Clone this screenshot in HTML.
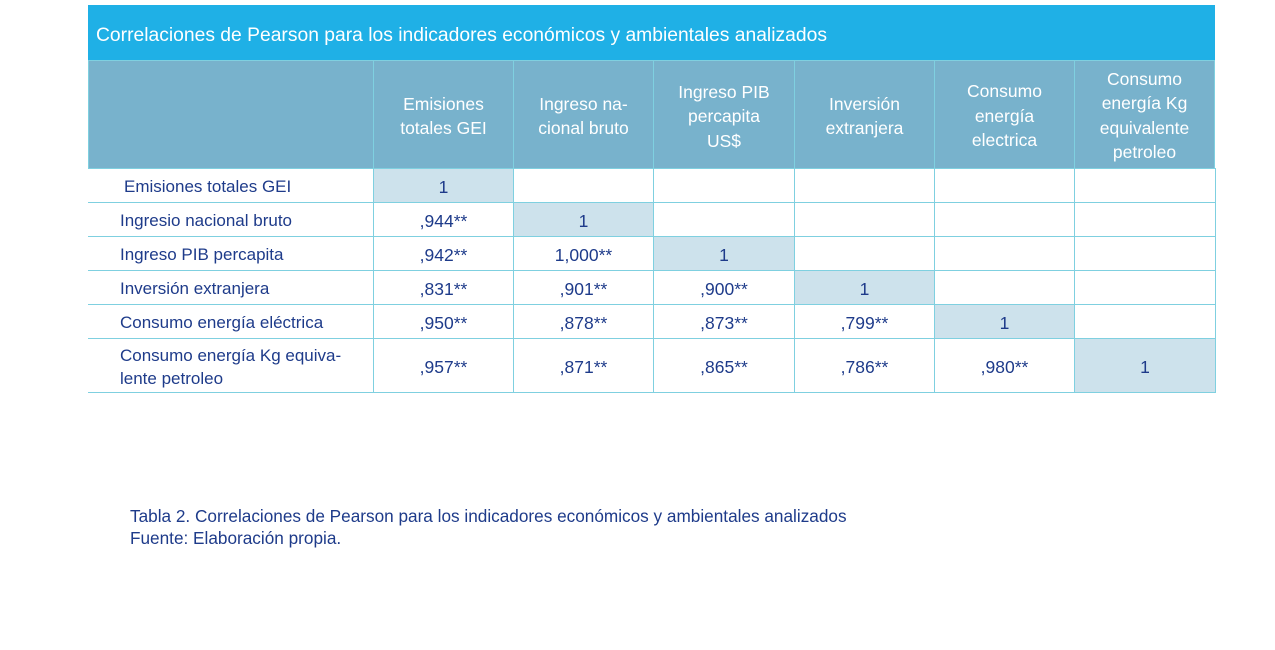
<!DOCTYPE html>
<html><head><meta charset="utf-8"><style>
body{margin:0;width:1275px;height:650px;background:#fff;position:relative;overflow:hidden;font-family:"Liberation Sans",sans-serif;}
.c{position:absolute;box-sizing:border-box;display:flex;align-items:center;justify-content:center;text-align:center;color:#1e3b8a;font-size:17.5px;padding-top:3px;}
.h{color:#fff;background:#78b2cc;font-size:17.5px;line-height:24.5px;border:1px solid #7fd0e0;padding-top:3px;}
.b{border:1px solid #7fd0e0;}
.d{background:#cde2ec;}
.l{justify-content:flex-start;text-align:left;padding-left:32px;font-size:17px;}
.n{position:absolute;color:#1e3b8a;font-size:17.2px;}
</style></head><body>
<div style="position:absolute;left:88px;top:5px;width:1127px;height:55px;background:#1fb0e6;color:#fff;font-size:19.3px;line-height:61px;padding-left:8px;box-sizing:border-box;overflow:hidden;">Correlaciones de Pearson para los indicadores económicos y ambientales analizados</div>
<div class="c h" style="left:88px;top:60px;width:286px;height:109px"></div>
<div class="c h" style="left:373px;top:60px;width:141px;height:109px">Emisiones<br>totales GEI</div>
<div class="c h" style="left:513px;top:60px;width:141px;height:109px">Ingreso na-<br>cional bruto</div>
<div class="c h" style="left:653px;top:60px;width:142px;height:109px;padding-top:4px">Ingreso PIB<br>percapita<br>US$</div>
<div class="c h" style="left:794px;top:60px;width:141px;height:109px">Inversión<br>extranjera</div>
<div class="c h" style="left:934px;top:60px;width:141px;height:109px">Consumo<br>energía<br>electrica</div>
<div class="c h" style="left:1074px;top:60px;width:141px;height:109px;padding-top:2px">Consumo<br>energía Kg<br>equivalente<br>petroleo</div>
<div id="rows"></div>
<script>
var xs=[88,373,513,653,794,934,1074,1215];
var ys=[168,202,236,270,304,338,392];
var labels=["Emisiones totales GEI","Ingresio nacional bruto","Ingreso PIB percapita","Inversión extranjera","Consumo energía eléctrica","Consumo energía Kg equiva-<br>lente petroleo"];
var v=[["1"],[",944**","1"],[",942**","1,000**","1"],[",831**",",901**",",900**","1"],[",950**",",878**",",873**",",799**","1"],[",957**",",871**",",865**",",786**",",980**","1"]];
var h="";
for(var r=0;r<6;r++){
 var t=ys[r],hh=ys[r+1]-ys[r]+1;
 h+='<div class="c l" style="left:88px;top:'+t+'px;width:286px;height:'+hh+'px;border-bottom:1px solid #7fd0e0;line-height:23px;'+(r==0?'padding-left:36px;':'')+'">'+labels[r]+'</div>';
 for(var c=0;c<6;c++){
  var txt=v[r][c]||"";
  h+='<div class="c b'+(c==r?' d':'')+'" style="left:'+xs[c+1]+'px;top:'+t+'px;width:'+(xs[c+2]-xs[c+1]+1)+'px;height:'+hh+'px">'+txt+'</div>';
 }
}
document.getElementById("rows").innerHTML=h;
</script>
<div class="n" style="left:130px;top:505px;line-height:22px">Tabla 2. Correlaciones de Pearson para los indicadores económicos y ambientales analizados<br>Fuente: Elaboración propia.</div>
</body></html>
